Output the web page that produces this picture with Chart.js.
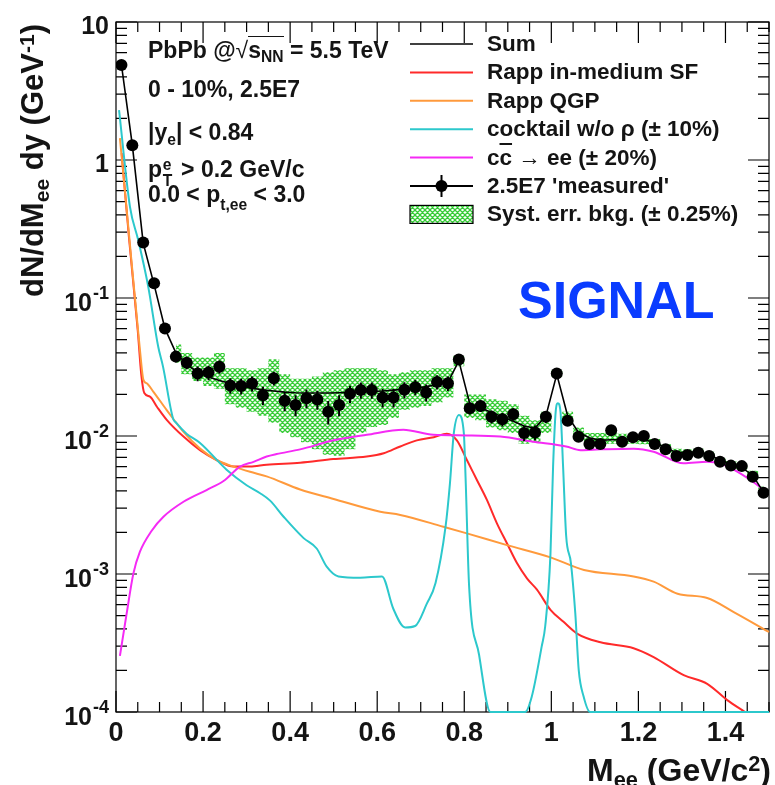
<!DOCTYPE html>
<html>
<head>
<meta charset="utf-8">
<script src="https://cdn.jsdelivr.net/npm/chart.js@4.4.1/dist/chart.umd.min.js"></script>
<style>
  html, body { margin:0; padding:0; background:#fff; }
  #wrap { position:relative; width:775px; height:785px; overflow:hidden;
          font-family:"Liberation Sans", Arial, Helvetica, sans-serif; font-weight:bold; color:#141414; }
  #c { position:absolute; left:0; top:0; }
  .t { position:absolute; white-space:nowrap; line-height:1; }
  .sm { font-size:0.68em; position:relative; }
  .info { font-size:23px; left:148px; }
  .leg { font-size:22.5px; left:487px; }
  .ov { border-top:1.6px solid #141414; }
  .ps { display:inline-block; position:relative; width:0.55em; height:1em; }
  .ps span { position:absolute; left:0.04em; font-size:0.68em; line-height:1; }
</style>
</head>
<body>
<div id="wrap">
  <canvas id="c" width="775" height="785"></canvas>

  <div class="t info" style="top:38.5px">PbPb @<span style="font-weight:normal">&#8730;</span><span class="ov">s<span class="sm" style="top:0.3em">NN</span></span> = 5.5 TeV</div>
  <div class="t info" style="top:77.5px">0 - 10%, 2.5E7</div>
  <div class="t info" style="top:120.5px">|y<span class="sm" style="top:0.35em">e</span>| &lt; 0.84</div>
  <div class="t info" style="top:153.5px">p<span class="ps"><span style="top:3.8px">e</span><span style="top:19.8px">T</span></span> &gt; 0.2 GeV/c</div>
  <div class="t info" style="top:182.5px">0.0 &lt; p<span class="sm" style="top:0.55em">t,ee</span> &lt; 3.0</div>

  <div class="t leg" style="top:32.95px">Sum</div>
  <div class="t leg" style="top:61.35px">Rapp in-medium SF</div>
  <div class="t leg" style="top:89.75px">Rapp QGP</div>
  <div class="t leg" style="top:118.15px">cocktail w/o &#961; (&#177; 10%)</div>
  <div class="t leg" style="top:146.55px">c<span style="text-decoration:overline">c</span> &#8594; ee (&#177; 20%)</div>
  <div class="t leg" style="top:174.95px">2.5E7 'measured'</div>
  <div class="t leg" style="top:203.35px">Syst. err. bkg. (&#177; 0.25%)</div>

  <div class="t" style="left:518px; top:274px; font-size:52px; color:#0a3cff;">SIGNAL</div>

  <div class="t" style="right:4px; top:753.9px; font-size:32px;">M<span class="sm" style="top:0.3em">ee</span> (GeV/c<span class="sm" style="top:-0.45em">2</span>)</div>
  <div class="t" style="left:16.8px; top:297px; font-size:31px; transform:rotate(-90deg); transform-origin:0 0;">dN/dM<span class="sm" style="top:0.3em">ee</span> dy (GeV<span class="sm" style="top:-0.45em">-1</span>)</div>
</div>

<script>
const FONT = '"Liberation Sans", Arial, Helvetica, sans-serif';

// Measured spectrum: bin centres (GeV/c^2), yields and statistical errors
const massBins = [0.0125,0.0375,0.0625,0.0875,0.1125,0.1375,0.1625,0.1875,0.2125,0.2375,
  0.2625,0.2875,0.3125,0.3375,0.3625,0.3875,0.4125,0.4375,0.4625,0.4875,
  0.5125,0.5375,0.5625,0.5875,0.6125,0.6375,0.6625,0.6875,0.7125,0.7375,
  0.7625,0.7875,0.8125,0.8375,0.8625,0.8875,0.9125,0.9375,0.9625,0.9875,
  1.0125,1.0375,1.0625,1.0875,1.1125,1.1375,1.1625,1.1875,1.2125,1.2375,
  1.2625,1.2875,1.3125,1.3375,1.3625,1.3875,1.4125,1.4375,1.4625,1.4875];
const measured = [4.88,1.28,0.252,0.128,0.060,0.0376,0.0340,0.0284,0.0288,0.0318,
  0.0232,0.0230,0.0240,0.0197,0.0262,0.0180,0.0168,0.0188,0.0184,0.0150,
  0.0168,0.0202,0.0215,0.0215,0.0190,0.0190,0.0216,0.0226,0.0207,0.0246,
  0.0241,0.0358,0.0159,0.0165,0.0138,0.0132,0.0144,0.0105,0.0106,0.0138,
  0.0284,0.0129,0.00989,0.00875,0.00875,0.0110,0.0091,0.0098,0.0100,0.00875,
  0.00802,0.00716,0.00729,0.00757,0.00716,0.00652,0.00610,0.00605,0.00507,0.00388];
const measuredErr = [0.15,0.04,0.008,0.005,0.003,0.0035,0.0035,0.0035,0.0035,0.0035,
  0.0030,0.0030,0.0030,0.0030,0.0030,0.0029,0.0029,0.0029,0.0029,0.0029,
  0.0029,0.0029,0.0029,0.0029,0.0029,0.0029,0.0029,0.0029,0.0029,0.0029,
  0.0029,0.0030,0.0016,0.0016,0.0015,0.0015,0.0015,0.0013,0.0013,0.0014,
  0.0020,0.0009,0.0007,0.0006,0.0006,0.0006,0.0006,0.0006,0.0006,0.0006,
  0.0005,0.0005,0.0005,0.0005,0.0005,0.0004,0.0004,0.0004,0.0004,0.0003];

// Sum of all sources, evaluated at the bin centres
const sumModel = [4.9,1.28,0.25,0.125,0.060,0.040,0.033,0.029,0.0268,0.0252,
  0.0240,0.0230,0.0222,0.0216,0.0212,0.0208,0.0206,0.0205,0.0205,0.0205,
  0.0206,0.0207,0.0208,0.0210,0.0212,0.0215,0.0218,0.0222,0.0228,0.0236,
  0.0245,0.0350,0.0172,0.0160,0.0148,0.0138,0.0128,0.0118,0.0114,0.0140,
  0.0280,0.0140,0.0106,0.0097,0.0093,0.0094,0.0094,0.0095,0.0094,0.0090,
  0.0082,0.0076,0.0076,0.0077,0.0073,0.0067,0.0062,0.0059,0.0052,0.0039];

// Systematic band from background subtraction (bins 5..59)
const systFirstBin = 5;
const systHigh = [0.046,0.040,0.037,0.037,0.040,0.031,0.031,0.030,0.031,0.036,
  0.028,0.026,0.026,0.027,0.029,0.030,0.031,0.031,0.031,0.030,
  0.028,0.029,0.030,0.030,0.031,0.031,0.038,0.020,0.020,0.0185,
  0.018,0.017,0.014,0.013,0.015,0.030,0.015,0.0115,0.0105,0.0105,
  0.0108,0.0104,0.0102,0.0100,0.0095,0.0087,0.0081,0.0080,0.0081,0.0077,
  0.0070,0.0066,0.0063,0.0056,0.0043];
const systLow = [0.034,0.028,0.025,0.023,0.022,0.017,0.016,0.015,0.014,0.0125,
  0.0105,0.0098,0.0090,0.0080,0.0073,0.0072,0.0080,0.0105,0.0116,0.0120,
  0.0135,0.0155,0.0160,0.0165,0.0175,0.019,0.032,0.0135,0.013,0.0115,
  0.011,0.0105,0.0088,0.0090,0.0105,0.027,0.0125,0.0095,0.0086,0.0086,
  0.0088,0.0088,0.0088,0.0087,0.0083,0.0076,0.0072,0.0072,0.0073,0.0069,
  0.0063,0.0059,0.0056,0.0049,0.0037];

// Rapp in-medium spectral function
const rappSFMass = [0.013,0.030,0.050,0.058,0.065,0.078,0.094,0.1165,0.155,0.193,
  0.231,0.270,0.308,0.346,0.423,0.499,0.576,0.615,0.653,0.691,
  0.730,0.760,0.783,0.806,0.829,0.852,0.875,0.898,0.921,0.944,
  0.967,0.998,1.028,1.059,1.113,1.189,1.235,1.304,1.358,1.404,1.445];
const rappSFYield = [1.12,0.27,0.058,0.028,0.0205,0.0193,0.0163,0.0131,0.0099,0.0079,
  0.0067,0.0060,0.0060,0.0062,0.0064,0.0068,0.0071,0.0075,0.0084,0.0093,
  0.0098,0.0104,0.0093,0.0067,0.0048,0.00344,0.00233,0.00167,0.0012,0.00093,
  0.00077,0.00055,0.00045,0.00037,0.00032,0.00029,0.00025,0.000185,0.00016,0.000122,0.0001];

// Rapp QGP radiation
const rappQGPMass = [0.009,0.030,0.055,0.063,0.0705,0.086,0.1165,0.155,0.193,0.231,
  0.270,0.308,0.346,0.423,0.500,0.607,0.653,0.752,0.806,0.898,
  0.998,1.075,1.189,1.235,1.290,1.358,1.419,1.500];
const rappQGPYield = [1.44,0.286,0.042,0.0255,0.0241,0.0209,0.0154,0.0107,0.0081,0.0067,
  0.0060,0.0055,0.0051,0.0041,0.0035,0.00283,0.00268,0.0022,0.00197,0.00162,
  0.00132,0.00107,0.00096,0.00088,0.00072,0.00067,0.00053,0.00038];

// Hadronic cocktail without the rho
const cocktailMass = [0.007,0.032,0.051,0.074,0.097,0.108,0.131,0.139,0.162,0.193,
  0.254,0.300,0.331,0.354,0.385,0.431,0.461,0.484,0.511,0.561,
  0.611,0.637,0.664,0.687,0.714,0.734,0.757,0.767,0.776,0.788,
  0.799,0.803,0.811,0.834,0.860,0.900,0.940,0.955,0.978,0.986,
  0.998,1.004,1.010,1.015,1.021,1.027,1.034,1.045,1.055,1.063,
  1.074,1.089,1.500];
const cocktailYield = [2.3,0.46,0.263,0.121,0.0443,0.0318,0.0134,0.0124,0.0104,0.0089,
  0.0057,0.0044,0.00385,0.0034,0.0026,0.00182,0.00153,0.00113,0.00096,0.00094,
  0.00096,0.00056,0.00041,0.00042,0.00061,0.00086,0.0022,0.0045,0.0105,0.0142,
  0.0105,0.0050,0.00083,0.00026,0.0001,0.0001,0.0001,0.000129,0.0003,0.00042,
  0.0014,0.0060,0.0150,0.0173,0.0150,0.0060,0.0019,0.0012,0.00052,0.0002,
  0.00013,0.0001,0.0001];

// Correlated charm decays
const charmMass = [0.009,0.0246,0.040,0.055,0.082,0.109,0.155,0.208,0.247,0.285,
  0.316,0.346,0.369,0.423,0.500,0.576,0.660,0.729,0.806,0.883,
  0.958,1.034,1.067,1.113,1.189,1.235,1.304,1.358,1.389,1.419,
  1.457,1.496];
const charmYield = [0.000255,0.00052,0.00101,0.00145,0.00206,0.0026,0.00334,0.00406,0.00472,0.0060,
  0.0065,0.0071,0.0074,0.0080,0.0093,0.0102,0.0111,0.0102,0.0101,0.0099,
  0.0091,0.0084,0.0079,0.0080,0.0081,0.0077,0.00634,0.0065,0.0063,0.0057,
  0.0048,0.0039];

// Axis ticks
const xTickValues = [0,0.2,0.4,0.6,0.8,1.0,1.2,1.4];
const xTickLabels = ['0','0.2','0.4','0.6','0.8','1','1.2','1.4'];
const yTickValues = [10,1,0.1,0.01,0.001,0.0001];
const yTickBase = ['10','1','10','10','10','10'];
const yTickExp = ['','','-1','-2','-3','-4'];

const COLORS = { sum:'#000000', sf:'#ff2a2a', qgp:'#ff9a3c', cocktail:'#2cc8cc', charm:'#f52af5', band:'#36cc36' };

const canvas = document.getElementById('c');
const ctx = canvas.getContext('2d');

function makeHatch(c) {
  const t = document.createElement('canvas');
  t.width = t.height = 5;
  const g = t.getContext('2d');
  g.strokeStyle = COLORS.band;
  g.lineWidth = 1.3;
  g.beginPath();
  [-5, 0, 5].forEach(o => { g.moveTo(o, 0); g.lineTo(o + 5, 5); });
  [0, 5, 10].forEach(o => { g.moveTo(o, 0); g.lineTo(o - 5, 5); });
  g.stroke();
  return c.createPattern(t, 'repeat');
}
const hatch = makeHatch(ctx);

const pts = (xs, ys) => xs.map((x, i) => ({ x, y: ys[i] }));
const curve = (label, xs, ys, color, order) => ({
  label, data: pts(xs, ys), borderColor: color, borderWidth: 2, pointRadius: 0,
  fill: false, cubicInterpolationMode: 'monotone', order, clip: false
});

const systX = massBins.slice(systFirstBin);

// Frame with inward ticks on all four sides
const framePlugin = {
  id: 'frame',
  beforeDatasetsDraw(chart) {
    const { ctx, chartArea: a, scales: { x, y } } = chart;
    ctx.save();
    ctx.strokeStyle = '#000';
    ctx.lineWidth = 1.2;
    ctx.strokeRect(a.left, a.top, a.right - a.left, a.bottom - a.top);
    ctx.beginPath();
    for (let i = 0; i <= 30; i++) {
      const px = x.getPixelForValue(i * 0.05);
      const len = (i % 4 === 0) ? 21 : 10;
      ctx.moveTo(px, a.bottom); ctx.lineTo(px, a.bottom - len);
      ctx.moveTo(px, a.top); ctx.lineTo(px, a.top + len);
    }
    for (let e = -4; e <= 1; e++) {
      for (let m = 1; m <= 9; m++) {
        const v = m * Math.pow(10, e);
        if (v > 10.0001) break;
        const py = y.getPixelForValue(v);
        const len = (m === 1) ? 21 : 11;
        ctx.moveTo(a.left, py); ctx.lineTo(a.left + len, py);
        ctx.moveTo(a.right, py); ctx.lineTo(a.right - len, py);
      }
    }
    ctx.stroke();
    ctx.restore();
  },
  afterDraw(chart) {
    const { ctx, chartArea: a, scales: { y } } = chart;
    ctx.save();
    ctx.fillStyle = '#141414';
    ctx.textAlign = 'right';
    ctx.textBaseline = 'alphabetic';
    const right = a.left - 7;
    yTickValues.forEach((v, i) => {
      const py = y.getPixelForValue(v);
      if (yTickExp[i]) {
        ctx.font = `bold 18px ${FONT}`;
        const w = ctx.measureText(yTickExp[i]).width;
        ctx.fillText(yTickExp[i], right, py + 0.5);
        ctx.font = `bold 25px ${FONT}`;
        ctx.fillText(yTickBase[i], right - w - 1, py + 12.5);
      } else {
        ctx.font = `bold 25px ${FONT}`;
        ctx.fillText(yTickBase[i], right, py + 11.5);
      }
    });
    ctx.restore();
  }
};

// Vertical statistical error bars on the measured points
const errorBarPlugin = {
  id: 'errorBars',
  afterDatasetsDraw(chart) {
    const idx = chart.data.datasets.findIndex(d => d.label === 'measured');
    const meta = chart.getDatasetMeta(idx);
    const { ctx, scales: { y } } = chart;
    ctx.save();
    ctx.strokeStyle = '#000';
    ctx.lineWidth = 2;
    ctx.beginPath();
    meta.data.forEach((p, i) => {
      const hi = y.getPixelForValue(measured[i] + measuredErr[i]);
      const lo = y.getPixelForValue(Math.max(measured[i] - measuredErr[i], 1e-5));
      ctx.moveTo(p.x, hi); ctx.lineTo(p.x, lo);
    });
    ctx.stroke();
    ctx.restore();
  }
};

// Legend symbols
const legendPlugin = {
  id: 'legendMarks',
  afterDraw(chart) {
    const { ctx } = chart;
    const x0 = 410, x1 = 473;
    const rows = [44, 72.4, 100.8, 129.2, 157.6, 186, 214.4];
    const cols = [COLORS.sum, COLORS.sf, COLORS.qgp, COLORS.cocktail, COLORS.charm, '#000'];
    ctx.save();
    cols.forEach((c, i) => {
      ctx.strokeStyle = c;
      ctx.lineWidth = i === 0 ? 1.6 : 2;
      ctx.beginPath(); ctx.moveTo(x0, rows[i]); ctx.lineTo(x1, rows[i]); ctx.stroke();
    });
    const mx = (x0 + x1) / 2;
    ctx.lineWidth = 2;
    ctx.beginPath(); ctx.moveTo(mx, rows[5] - 11); ctx.lineTo(mx, rows[5] + 11); ctx.stroke();
    ctx.fillStyle = '#000';
    ctx.beginPath(); ctx.arc(mx, rows[5], 6, 0, Math.PI * 2); ctx.fill();
    ctx.fillStyle = hatch;
    ctx.fillRect(x0, rows[6] - 9, x1 - x0, 18);
    ctx.strokeStyle = '#000';
    ctx.lineWidth = 1.2;
    ctx.strokeRect(x0, rows[6] - 9, x1 - x0, 18);
    ctx.restore();
  }
};

new Chart(ctx, {
  type: 'line',
  data: {
    datasets: [
      { label: 'measured', data: pts(massBins, measured), showLine: false,
        pointRadius: 6, pointStyle: 'circle', pointBackgroundColor: '#000',
        pointBorderWidth: 0, order: 0 },
      { label: 'Sum', data: pts(massBins, sumModel), borderColor: COLORS.sum,
        borderWidth: 1.6, pointRadius: 0, fill: false, tension: 0, order: 1 },
      curve('charm', charmMass, charmYield, COLORS.charm, 2),
      curve('cocktail', cocktailMass, cocktailYield, COLORS.cocktail, 3),
      curve('QGP', rappQGPMass, rappQGPYield, COLORS.qgp, 4),
      curve('SF', rappSFMass, rappSFYield, COLORS.sf, 5),
      { label: 'systHigh', data: pts(systX, systHigh), borderWidth: 0, pointRadius: 0,
        stepped: 'middle', fill: '+1', backgroundColor: hatch, order: 10 },
      { label: 'systLow', data: pts(systX, systLow), borderWidth: 0, pointRadius: 0,
        stepped: 'middle', fill: false, order: 11 }
    ]
  },
  options: {
    responsive: false,
    animation: false,
    devicePixelRatio: 1,
    layout: { padding: { top: 22, right: 4, left: 0, bottom: 0 } },
    plugins: { legend: { display: false }, tooltip: { enabled: false } },
    scales: {
      x: {
        type: 'linear', min: 0, max: 1.5,
        afterFit(s) { s.height = 73; },
        afterBuildTicks(s) { s.ticks = xTickValues.map(v => ({ value: v })); },
        grid: { display: false, drawTicks: false },
        border: { display: false },
        ticks: {
          autoSkip: false, maxRotation: 0, padding: 5, color: '#141414',
          font: { family: FONT, size: 27, weight: 'bold' },
          callback: (v, i) => xTickLabels[i]
        }
      },
      y: {
        type: 'logarithmic', min: 1e-4, max: 10,
        afterFit(s) { s.width = 116; },
        grid: { display: false, drawTicks: false },
        border: { display: false },
        ticks: { display: false }
      }
    }
  },
  plugins: [framePlugin, errorBarPlugin, legendPlugin]
});
</script>
</body>
</html>
